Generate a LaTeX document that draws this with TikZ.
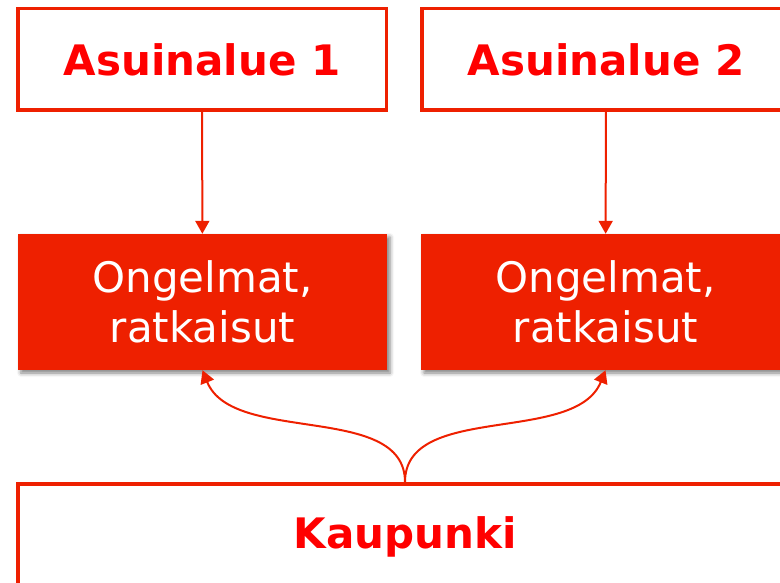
\documentclass[tikz,border=0pt]{standalone}
\usepackage{fontspec}
\setmainfont{DejaVu Sans}
\usepackage{tikz}
\usetikzlibrary{arrows.meta,shadows.blur}

\definecolor{boxred}{RGB}{238,32,0}
\definecolor{textred}{RGB}{255,0,0}

\begin{document}
\begin{tikzpicture} [x=1pt, y=-1pt,
	areabox/.style={draw=boxred, line width=3.5pt, fill=white, minimum width=368.5pt,
		minimum height=101.5pt, text=textred, font=\fontsize{42}{50}\selectfont\bfseries},
	issuebox/.style={fill=boxred, minimum width=369pt, minimum height=136pt, align=center,
		text=white, font=\fontsize{42}{50}\selectfont,
		blur shadow={shadow xshift=3pt, shadow yshift=-3pt, shadow blur radius=4pt, shadow opacity=50}},
	cityarrow/.style={draw=boxred, line width=2pt, -{Triangle[width=14pt,length=13pt,fill=boxred]}}]
		\useasboundingbox (0,0) rectangle (780,583);
		\clip (0,0) rectangle (780,583);
		%----------------------------------------------------
		% Residential areas on top
		%----------------------------------------------------
		\node [areabox] (a1) at (202,59.5) {Asuinalue 1};
		\node [areabox] (a2) at (606,59.5) {Asuinalue 2};
		
		%----------------------------------------------------
		% Problems and solutions of each area
		%----------------------------------------------------
		\node [issuebox] (o1) at (202.5,302) {Ongelmat,\\ratkaisut};
		\node [issuebox] (o2) at (605.5,302) {Ongelmat,\\ratkaisut};
		
		%----------------------------------------------------
		% The city
		%----------------------------------------------------
		\node [areabox, minimum width=774pt, minimum height=106.5pt] (k) at (405,537) {Kaupunki};
		
		\draw [cityarrow] (a1) -- (o1);
		\draw [cityarrow] (a2) -- (o2);
		\draw [cityarrow] (k.north) .. controls +(0,-80) and +(30,75) .. (o1.south);
		\draw [cityarrow] (k.north) .. controls +(0,-80) and +(-30,75) .. (o2.south);
	\end{tikzpicture}
\end{document}
